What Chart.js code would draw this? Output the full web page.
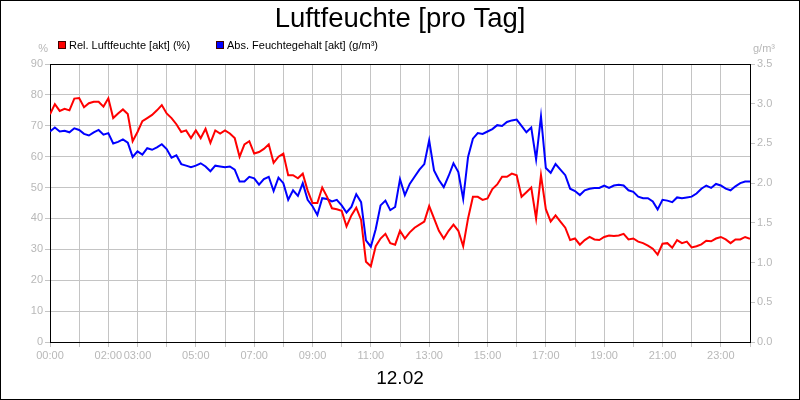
<!DOCTYPE html>
<html>
<head>
	<meta http-equiv="Content-Type" content="text/html; charset=utf-8"/>
	<title>Luftfeuchte [pro Tag]</title>
	<script src="https://cdn.jsdelivr.net/npm/chart.js"></script>
	<style type="text/css">
		body { margin:0; background:#fff; }
		canvas { display:block; }
	</style>
</head>
<body>
	<canvas id="luftChart" width="800" height="400"></canvas>
	<script>
	// Messwerte alle 10 Minuten, 00:00 bis 24:00
	const stepMinutes = 10;
	const relFeuchte = [
		73.7, 77, 74.8, 75.5, 75, 78.8,
		79, 76, 77.3, 77.8, 77.8, 76.2,
		78.9, 72.5, 74, 75.3, 73.8, 65,
		68, 71.5, 72.5, 73.5, 75, 76.7,
		74, 72.5, 70.5, 68, 68.5, 66,
		68.5, 66, 69, 64.5, 68.5, 67.5,
		68.5, 67.5, 66, 60, 64, 65,
		61, 61.5, 62.5, 64, 58, 60,
		61, 54, 54, 53, 54.5, 49,
		45, 45, 50, 47, 43.3, 43,
		42.5, 37.4, 41, 43.5, 39.5, 26,
		24.5, 31, 33.5, 35, 32, 31.5,
		36, 33.5, 35.5, 37, 38, 39,
		44, 40, 36, 33.5, 36, 38,
		36, 31, 40, 47, 47, 46,
		46.5, 49.5, 51, 53.5, 53.5, 54.5,
		54, 47, 48.5, 50, 40, 54,
		43, 39, 41, 39, 37, 33,
		33.5, 31.5, 33, 34, 33.2, 33,
		34, 34.5, 34.3, 34.5, 35, 33.2,
		33.5, 32.5, 32, 31.2, 30.2, 28.3,
		31.8, 32, 30.5, 33, 32, 32.5,
		30.6, 31, 31.6, 32.8, 32.6, 33.5,
		34, 33.2, 32, 33.2, 33.2, 34,
		33.4
	];
	const absFeuchte = [
		2.65, 2.70, 2.65, 2.66, 2.64, 2.69,
		2.67, 2.62, 2.60, 2.64, 2.67, 2.61,
		2.63, 2.50, 2.52, 2.55, 2.51, 2.33,
		2.40, 2.36, 2.44, 2.42, 2.45, 2.49,
		2.43, 2.32, 2.35, 2.24, 2.22, 2.20,
		2.22, 2.25, 2.21, 2.15, 2.22, 2.21,
		2.20, 2.21, 2.17, 2.02, 2.02, 2.08,
		2.06, 1.98, 2.05, 2.08, 1.90, 2.07,
		2.00, 1.79, 1.91, 1.84, 2.00, 1.79,
		1.71, 1.60, 1.81, 1.80, 1.77, 1.79,
		1.72, 1.63, 1.70, 1.86, 1.76, 1.28,
		1.20, 1.42, 1.72, 1.78, 1.66, 1.70,
		2.05, 1.85, 1.99, 2.08, 2.17, 2.24,
		2.54, 2.16, 2.04, 1.95, 2.09, 2.25,
		2.14, 1.80, 2.33, 2.56, 2.63, 2.62,
		2.65, 2.68, 2.73, 2.72, 2.77, 2.79,
		2.80, 2.72, 2.64, 2.70, 2.30, 2.84,
		2.19, 2.13, 2.24, 2.17, 2.10, 1.93,
		1.90, 1.85, 1.91, 1.93, 1.94, 1.94,
		1.97, 1.94, 1.97, 1.98, 1.97, 1.91,
		1.89, 1.83, 1.81, 1.81, 1.77, 1.67,
		1.79, 1.78, 1.76, 1.82, 1.81, 1.82,
		1.83, 1.87, 1.93, 1.97, 1.94, 1.99,
		1.97, 1.93, 1.91, 1.96, 2.00, 2.02,
		2.02
	];
	const xTickHours = [0, 2, 3, 5, 7, 9, 11, 13, 15, 17, 19, 21, 23];
	const seriesNames = ["Rel. Luftfeuchte [akt] (%)", "Abs. Feuchtegehalt [akt] (g/m³)"];
	const titleText = "Luftfeuchte [pro Tag]";
	const dateText = "12.02";

	const FONT = '"Liberation Sans", Arial, sans-serif';
	const GREY = "#b8b8b8";
	const GRID = "#c4c4c4";

	function toPoints(arr){
		return arr.map(function(v,i){ return {x: i*stepMinutes/60, y: v}; });
	}

	// Rahmen, Titel, Legende, Einheiten
	const deko = {
		id: "deko",
		afterDraw: function(chart){
			const ctx = chart.ctx, a = chart.chartArea;
			ctx.save();
			ctx.strokeStyle = "#000";
			ctx.lineWidth = 1;
			ctx.beginPath();
			ctx.moveTo(a.left, Math.round(a.top)+0.5);
			ctx.lineTo(a.right, Math.round(a.top)+0.5);
			ctx.stroke();
			ctx.strokeRect(0.5, 0.5, chart.width-1, chart.height-1);

			ctx.fillStyle = "#000";
			ctx.textAlign = "center";
			ctx.textBaseline = "alphabetic";
			ctx.font = "27.5px " + FONT;
			ctx.fillText(titleText, chart.width/2, 27);
			ctx.font = "19px " + FONT;
			ctx.fillText(dateText, chart.width/2, 384);

			ctx.font = "11px " + FONT;
			ctx.fillStyle = GREY;
			ctx.textAlign = "right";
			ctx.fillText("%", a.left-2, 52);
			ctx.textAlign = "left";
			ctx.fillText("g/m³", a.right+3, 52);

			// Legende
			const lx = [58, 216];
			chart.data.datasets.forEach(function(ds, i){
				ctx.fillStyle = ds.borderColor;
				ctx.fillRect(lx[i]+0.5, 41.5, 7, 7);
				ctx.strokeStyle = "#400000";
				ctx.strokeRect(lx[i]+0.5, 41.5, 7, 7);
				ctx.fillStyle = "#000";
				ctx.textAlign = "left";
				ctx.fillText(ds.label, lx[i]+11, 49);
			});
			ctx.restore();
		}
	};

	new Chart(document.getElementById("luftChart"), {
		type: "line",
		data: {
			datasets: [{
				label: seriesNames[0],
				data: toPoints(relFeuchte),
				yAxisID: "y",
				borderColor: "#ff0000",
				borderWidth: 2,
				pointRadius: 0,
				tension: 0
			},{
				label: seriesNames[1],
				data: toPoints(absFeuchte),
				yAxisID: "y2",
				borderColor: "#0000ff",
				borderWidth: 2,
				pointRadius: 0,
				tension: 0
			}]
		},
		options: {
			responsive: false,
			animation: false,
			layout: { padding: { top: 64, left: 0, right: 0, bottom: 0 } },
			plugins: {
				legend: { display: false },
				title: { display: false },
				tooltip: { enabled: false }
			},
			scales: {
				x: {
					type: "linear",
					min: 0, max: 24,
					afterFit: function(s){ s.height = 58; },
					border: { color: "#000", width: 1 },
					grid: { color: GRID, tickLength: 5 },
					ticks: {
						stepSize: 1,
						autoSkip: false,
						maxRotation: 0,
						padding: 2,
						color: GREY,
						font: { family: FONT, size: 11 },
						callback: function(v){
							if (xTickHours.indexOf(v) < 0) return "";
							return (v < 10 ? "0" : "") + v + ":00";
						}
					}
				},
				y: {
					position: "left",
					min: 0, max: 90,
					afterFit: function(s){ s.width = 50; },
					border: { color: "#000", width: 1 },
					grid: { color: GRID, tickLength: 5 },
					ticks: { stepSize: 10, padding: 2, color: GREY, font: { family: FONT, size: 11 } }
				},
				y2: {
					position: "right",
					min: 0, max: 3.5,
					afterFit: function(s){ s.width = 50; },
					border: { color: "#000", width: 1 },
					grid: { drawOnChartArea: false, color: GRID, tickLength: 5 },
					ticks: {
						stepSize: 0.5, padding: 2, color: GREY,
						font: { family: FONT, size: 11 },
						callback: function(v){ return v.toFixed(1); }
					}
				}
			}
		},
		plugins: [deko]
	});
	</script>
</body>
</html>
